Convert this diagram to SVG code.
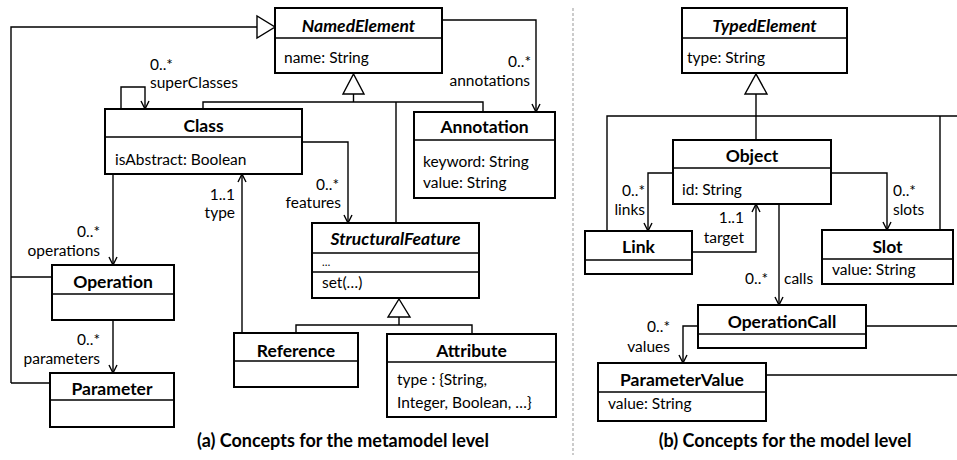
<svg xmlns="http://www.w3.org/2000/svg" width="957" height="460" viewBox="0 0 957 460">
<defs>
<style>
.box{fill:#fff;stroke:#000;stroke-width:2}
.div{stroke:#000;stroke-width:1.6;fill:none}
.ln{stroke:#000;stroke-width:1.4;fill:none}
.tri{fill:#fff;stroke:#000;stroke-width:1.4}
.t{font-family:Lato,"Open Sans",sans-serif;font-weight:bold;font-size:17.5px;text-anchor:middle;fill:#000}
.ti{font-style:italic}
.a{font-family:Lato,"Open Sans",sans-serif;font-size:15.5px;fill:#000}
.e{text-anchor:end}
.cap{font-family:Lato,"Open Sans",sans-serif;font-weight:bold;font-size:18px;text-anchor:middle;fill:#000}
</style>
<marker id="arr" markerUnits="userSpaceOnUse" markerWidth="12" markerHeight="12" refX="9" refY="5" orient="auto" viewBox="0 0 12 10">
<path d="M1,1 L9,5 L1,9" fill="none" stroke="#000" stroke-width="1.4"/>
</marker>
</defs>
<rect width="957" height="460" fill="#fff"/>
<line x1="573" y1="8" x2="573" y2="455" stroke="#aaa" stroke-width="1.2" stroke-dasharray="3 2"/>

<g id="connectors">
<path class="ln" d="M11,383 L11,27 L257,27"/>
<path class="ln" d="M11,277 L52,277"/>
<path class="ln" d="M11,383 L50,383"/>
<polygon class="tri" points="257,16 257,38 275,27"/>
<path class="ln" d="M353.5,94 L353.5,102 M203,109 L203,102 L483,102 L483,112 M396,102 L396,223"/>
<polygon class="tri" points="343,94 364,94 353.5,74"/>
<path class="ln" d="M121,109 L121,87 L145,87 L145,109" marker-end="url(#arr)"/>
<path class="ln" d="M442,20 L536,20 L536,112" marker-end="url(#arr)"/>
<path class="ln" d="M302,142 L348,142 L348,223" marker-end="url(#arr)"/>
<path class="ln" d="M242,333 L242,174" marker-end="url(#arr)"/>
<path class="ln" d="M113,174 L113,265" marker-end="url(#arr)"/>
<path class="ln" d="M113,320 L113,373" marker-end="url(#arr)"/>
<path class="ln" d="M399,317 L399,325 M296,333 L296,325 L472,325 L472,334"/>
<polygon class="tri" points="388,317 410,317 399,299"/>

<path class="ln" d="M756,94 L756,140 M607,231 L607,116 L957,116 M940,116 L940,230"/>
<polygon class="tri" points="745,94 767,94 756,74"/>
<path class="ln" d="M866,326 L957,326 M766,375 L957,375"/>
<path class="ln" d="M673,173 L648,173 L648,231" marker-end="url(#arr)"/>
<path class="ln" d="M692,252 L756,252 L756,204" marker-end="url(#arr)"/>
<path class="ln" d="M779,204 L779,305" marker-end="url(#arr)"/>
<path class="ln" d="M831,173 L887,173 L887,230" marker-end="url(#arr)"/>
<path class="ln" d="M698,326 L683,326 L683,363" marker-end="url(#arr)"/>
</g>

<g id="labels">
<text class="a" x="150" y="70">0..*</text>
<text class="a" x="150" y="88">superClasses</text>
<text class="a e" x="531" y="67">0..*</text>
<text class="a e" x="530" y="86">annotations</text>
<text class="a e" x="339" y="190">0..*</text>
<text class="a e" x="341" y="208">features</text>
<text class="a e" x="235" y="200">1..1</text>
<text class="a e" x="235" y="218">type</text>
<text class="a e" x="100" y="237">0..*</text>
<text class="a e" x="100" y="256">operations</text>
<text class="a e" x="100" y="345">0..*</text>
<text class="a e" x="100" y="364">parameters</text>
<text class="a e" x="645" y="196">0..*</text>
<text class="a e" x="645" y="215">links</text>
<text class="a e" x="744" y="223">1..1</text>
<text class="a e" x="744" y="243">target</text>
<text class="a e" x="768" y="284">0..*</text>
<text class="a" x="784" y="284">calls</text>
<text class="a" x="893" y="196">0..*</text>
<text class="a" x="893" y="215">slots</text>
<text class="a e" x="670" y="332">0..*</text>
<text class="a e" x="670" y="352">values</text>
</g>

<g id="NamedElement">
<rect class="box" x="275" y="8" width="167" height="65"/>
<line class="div" x1="275" y1="38" x2="442" y2="38"/>
<text class="t ti" x="358.5" y="32">NamedElement</text>
<text class="a" x="284" y="63">name: String</text>
</g>
<g id="Class">
<rect class="box" x="105" y="109" width="197" height="65"/>
<line class="div" x1="105" y1="137" x2="302" y2="137"/>
<text class="t" x="203.5" y="132">Class</text>
<text class="a" x="115" y="165">isAbstract: Boolean</text>
</g>
<g id="Annotation">
<rect class="box" x="414" y="112" width="141" height="86"/>
<line class="div" x1="414" y1="140" x2="555" y2="140"/>
<text class="t" x="484.5" y="133">Annotation</text>
<text class="a" x="423" y="167">keyword: String</text>
<text class="a" x="423" y="188">value: String</text>
</g>
<g id="Operation">
<rect class="box" x="52" y="265" width="122" height="55"/>
<line class="div" x1="52" y1="294" x2="174" y2="294"/>
<text class="t" x="113" y="288">Operation</text>
</g>
<g id="Parameter">
<rect class="box" x="50" y="373" width="124" height="54"/>
<line class="div" x1="50" y1="400" x2="174" y2="400"/>
<text class="t" x="112" y="395">Parameter</text>
</g>
<g id="StructuralFeature">
<rect class="box" x="312" y="223" width="167" height="75"/>
<line class="div" x1="312" y1="253" x2="479" y2="253"/>
<line class="div" x1="312" y1="272" x2="479" y2="272"/>
<text class="t ti" x="395.5" y="245">StructuralFeature</text>
<text class="a" x="322" y="266" style="font-size:11px">…</text>
<text class="a" x="322" y="288">set(…)</text>
</g>
<g id="Reference">
<rect class="box" x="234" y="333" width="124" height="54"/>
<line class="div" x1="234" y1="361" x2="358" y2="361"/>
<text class="t" x="296" y="357">Reference</text>
</g>
<g id="Attribute">
<rect class="box" x="387" y="334" width="169" height="83"/>
<line class="div" x1="387" y1="362" x2="556" y2="362"/>
<text class="t" x="471.5" y="357">Attribute</text>
<text class="a" x="397" y="385">type : {String,</text>
<text class="a" x="397" y="408">Integer, Boolean, …}</text>
</g>

<g id="TypedElement">
<rect class="box" x="682" y="8" width="165" height="65"/>
<line class="div" x1="682" y1="38" x2="847" y2="38"/>
<text class="t ti" x="764.5" y="32">TypedElement</text>
<text class="a" x="687" y="63">type: String</text>
</g>
<g id="Object">
<rect class="box" x="673" y="140" width="158" height="64"/>
<line class="div" x1="673" y1="168" x2="831" y2="168"/>
<text class="t" x="752" y="162">Object</text>
<text class="a" x="682" y="195">id: String</text>
</g>
<g id="Link">
<rect class="box" x="585" y="231" width="107" height="43"/>
<line class="div" x1="585" y1="260" x2="692" y2="260"/>
<text class="t" x="638.5" y="253">Link</text>
</g>
<g id="Slot">
<rect class="box" x="822" y="230" width="131" height="54"/>
<line class="div" x1="822" y1="259" x2="953" y2="259"/>
<text class="t" x="887.5" y="253">Slot</text>
<text class="a" x="832" y="275">value: String</text>
</g>
<g id="OperationCall">
<rect class="box" x="698" y="305" width="168" height="43"/>
<line class="div" x1="698" y1="334" x2="866" y2="334"/>
<text class="t" x="782" y="328">OperationCall</text>
</g>
<g id="ParameterValue">
<rect class="box" x="598" y="363" width="168" height="58"/>
<line class="div" x1="598" y1="392" x2="766" y2="392"/>
<text class="t" x="682" y="386">ParameterValue</text>
<text class="a" x="608" y="409">value: String</text>
</g>

<text class="cap" x="343" y="447">(a) Concepts for the metamodel level</text>
<text class="cap" x="785" y="447">(b) Concepts for the model level</text>
</svg>
